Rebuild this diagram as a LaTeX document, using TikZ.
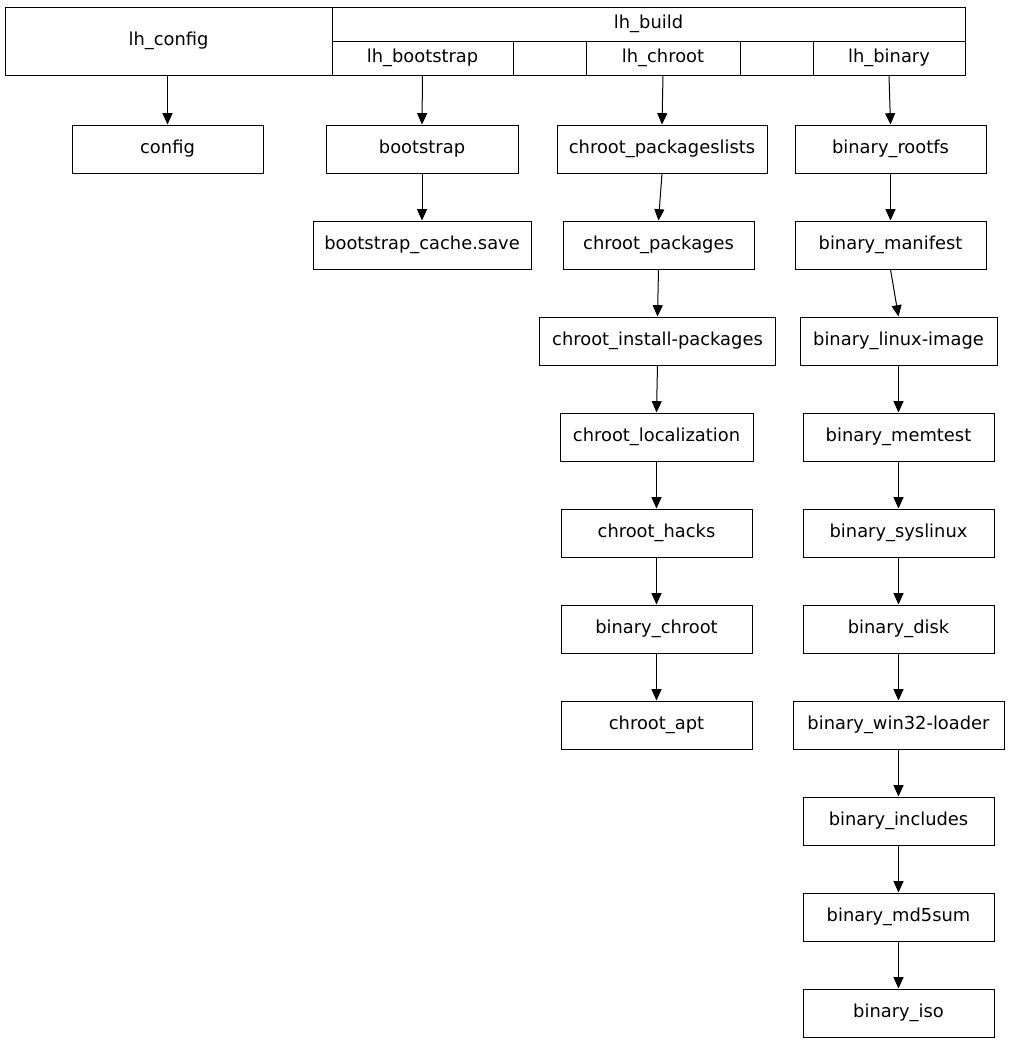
\documentclass[tikz,border=0pt]{standalone}
\usepackage{fontspec}
\setmainfont{DejaVu Sans}
\usetikzlibrary{arrows.meta}
\begin{document}
\begin{tikzpicture}[x=0.75pt,y=-0.75pt,
  box/.style={draw, line width=0.75pt, inner sep=0pt, minimum height=36pt,
    font=\fontsize{13.4}{16}\selectfont, anchor=center},
  bw/.style={minimum width=#1*0.75pt},
  bh/.style={minimum height=#1*0.75pt},
  arr/.style={line width=0.75pt, -{Triangle[length=8.5pt,width=7.5pt]}}]
\useasboundingbox (0,0) rectangle (1009,1043);
% record
\node[box, bw=327, bh=68] (lhconfig) at (168.5,41) {lh\_config};
\node[box, bw=633, bh=34] (lhbuild) at (648.5,24) {lh\_build};
\node[box, bw=181, bh=34] (lhbootstrap) at (422.5,58) {lh\_bootstrap};
\node[box, bw=73, bh=34] (e1) at (549.5,58) {};
\node[box, bw=154, bh=34] (lhchroot) at (663,58) {lh\_chroot};
\node[box, bw=73, bh=34] (e2) at (776.5,58) {};
\node[box, bw=152, bh=34] (lhbinary) at (889,58) {lh\_binary};
% config column
\node[box, bw=191] (config) at (167.5,149) {config};
% bootstrap column
\node[box, bw=192] (bootstrap) at (422,149) {bootstrap};
\node[box, bw=218] (bcache) at (422,245) {bootstrap\_cache.save};
% chroot column
\node[box, bw=210] (cpl) at (662,149) {chroot\_packageslists};
\node[box, bw=191] (cp) at (658.5,245) {chroot\_packages};
\node[box, bw=236] (cip) at (657.5,341) {chroot\_install-packages};
\node[box, bw=193] (cl) at (656.5,437) {chroot\_localization};
\node[box, bw=191] (ch) at (656.5,533) {chroot\_hacks};
\node[box, bw=191] (bc) at (656.5,629) {binary\_chroot};
\node[box, bw=191] (ca) at (656.5,725) {chroot\_apt};
% binary column
\node[box, bw=191] (br) at (890.5,149) {binary\_rootfs};
\node[box, bw=191] (bm) at (890.5,245) {binary\_manifest};
\node[box, bw=197] (bli) at (898.5,341) {binary\_linux-image};
\node[box, bw=191] (bmt) at (898.5,437) {binary\_memtest};
\node[box, bw=191] (bs) at (898.5,533) {binary\_syslinux};
\node[box, bw=191] (bd) at (898.5,629) {binary\_disk};
\node[box, bw=211] (bw) at (898.5,725) {binary\_win32-loader};
\node[box, bw=191] (bi) at (898.5,821) {binary\_includes};
\node[box, bw=191] (bmd) at (898.5,917) {binary\_md5sum};
\node[box, bw=191] (biso) at (898.5,1013) {binary\_iso};
% edges
\draw[arr] ([xshift=-0.75pt]lhconfig.south) -- (config.north);
\draw[arr] (lhbootstrap.south) -- (bootstrap.north);
\draw[arr] (bootstrap.south) -- (bcache.north);
\draw[arr] (lhchroot.south) -- (cpl.north);
\draw[arr] (cpl.south) -- (cp.north);
\draw[arr] (cp.south) -- (cip.north);
\draw[arr] (cip.south) -- (cl.north);
\draw[arr] (cl.south) -- (ch.north);
\draw[arr] (ch.south) -- (bc.north);
\draw[arr] (bc.south) -- (ca.north);
\draw[arr] (lhbinary.south) -- (br.north);
\draw[arr] (br.south) -- (bm.north);
\draw[arr] (bm.south) -- (bli.north);
\draw[arr] (bli.south) -- (bmt.north);
\draw[arr] (bmt.south) -- (bs.north);
\draw[arr] (bs.south) -- (bd.north);
\draw[arr] (bd.south) -- (bw.north);
\draw[arr] (bw.south) -- (bi.north);
\draw[arr] (bi.south) -- (bmd.north);
\draw[arr] (bmd.south) -- (biso.north);
\end{tikzpicture}
\end{document}
